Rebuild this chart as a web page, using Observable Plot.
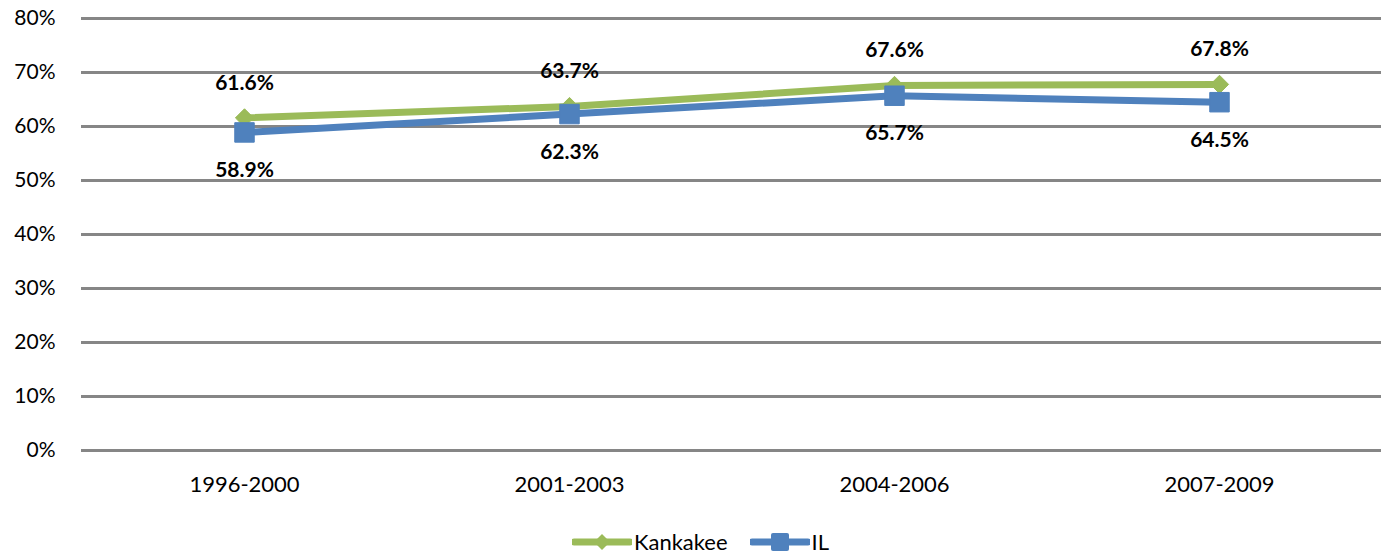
<!DOCTYPE html>
<html>
<head>
<meta charset="utf-8">
<script src="https://cdn.jsdelivr.net/npm/d3@7"></script>
<script src="https://cdn.jsdelivr.net/npm/@observablehq/plot@0.6"></script>
<style>
  body { margin: 0; background: #fff; font-family: Lato, "Open Sans", sans-serif; }
  #legend { display: flex; justify-content: center; align-items: center; gap: 22px; font-size: 22px; color: #000; margin-top: 18px; padding-left: 20px;}
  #legend span.item { display: flex; align-items: center; gap: 2px; }
</style>
</head>
<body>
<div id="chart"></div>
<div id="legend"></div>
<script>
const periods = ["1996-2000", "2001-2003", "2004-2006", "2007-2009"];
const kankakee = [0.616, 0.637, 0.676, 0.678];
const il = [0.589, 0.623, 0.657, 0.645];
const yTicks = [0, 0.1, 0.2, 0.3, 0.4, 0.5, 0.6, 0.7, 0.8];
const seriesNames = ["Kankakee", "IL"];
const colors = ["#9BBB59", "#4F81BD"];

const kData = periods.map((p, i) => ({period: p, value: kankakee[i]}));
const iData = periods.map((p, i) => ({period: p, value: il[i]}));
const fmt = d3.format(".1%");

const chart = Plot.plot({
  width: 1381,
  height: 510,
  marginTop: 18,
  marginBottom: 60,
  marginLeft: 81,
  marginRight: 0,
  style: {fontFamily: "Lato, 'Open Sans', sans-serif", background: "#fff"},
  x: {type: "point", domain: periods, padding: 0.5, label: null},
  y: {domain: [0, 0.8], label: null},
  marks: [
    Plot.ruleY(yTicks, {stroke: "#868686", strokeWidth: 3}),
    Plot.axisY(yTicks, {tickSize: 0, tickPadding: 26, fontSize: 21, tickFormat: d3.format(".0%"), label: null, fill: "#000"}),
    Plot.axisX({tickSize: 0, tickPadding: 26, fontSize: 22, label: null, fill: "#000"}),
    Plot.line(kData, {x: "period", y: "value", stroke: colors[0], strokeWidth: 7}),
    Plot.dot(kData, {x: "period", y: "value", symbol: "diamond2", r: 8.2, fill: colors[0], stroke: colors[0], strokeWidth: 1}),
    Plot.line(iData, {x: "period", y: "value", stroke: colors[1], strokeWidth: 7}),
    Plot.dot(iData, {x: "period", y: "value", symbol: "square", r: 11, fill: colors[1], stroke: colors[1], strokeWidth: 1}),
    Plot.text(kData, {x: "period", y: "value", text: d => fmt(d.value), dy: -35, fontSize: 21, fontWeight: "bold", fill: "#000"}),
    Plot.text(iData, {x: "period", y: "value", text: d => fmt(d.value), dy: 38, fontSize: 21, fontWeight: "bold", fill: "#000"})
  ]
});
document.getElementById("chart").appendChild(chart);

const legend = document.getElementById("legend");
const symbols = ["diamond", "square"];
seriesNames.forEach((name, i) => {
  const item = document.createElement("span");
  item.className = "item";
  const svg = d3.create("svg").attr("width", 60).attr("height", 20);
  svg.append("line").attr("x1", 2).attr("x2", 58).attr("y1", 10).attr("y2", 10)
    .attr("stroke", colors[i]).attr("stroke-width", 7).attr("stroke-linecap", "round");
  if (symbols[i] === "diamond") {
    svg.append("path").attr("d", "M30,2 L38,10 L30,18 L22,10 Z").attr("fill", colors[i]);
  } else {
    svg.append("rect").attr("x", 21).attr("y", 1).attr("width", 18).attr("height", 18).attr("rx", 2).attr("fill", colors[i]);
  }
  item.appendChild(svg.node());
  const t = document.createElement("span");
  t.textContent = name;
  item.appendChild(t);
  legend.appendChild(item);
});
</script>
</body>
</html>
